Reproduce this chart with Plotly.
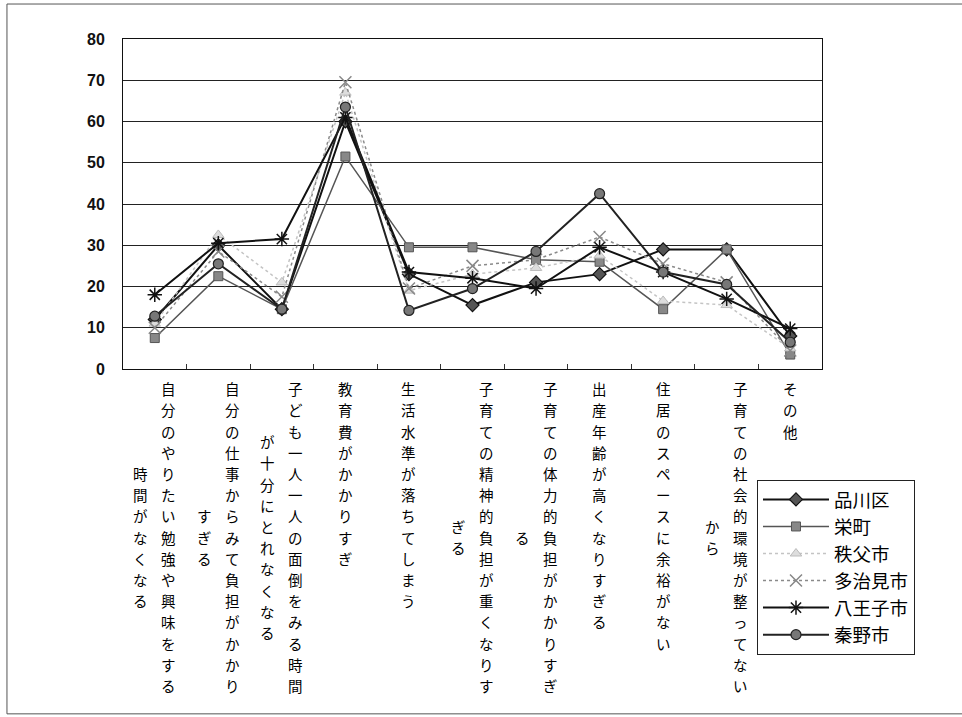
import plotly.graph_objects as go

# Reasons (categories) and their label columns, written right-to-left as in vertical text
categories = [
    "自分のやりたい勉強や興味をする時間がなくなる",
    "自分の仕事からみて負担がかかりすぎる",
    "子ども一人一人の面倒をみる時間が十分にとれなくなる",
    "教育費がかかりすぎ",
    "生活水準が落ちてしまう",
    "子育ての精神的負担が重くなりすぎる",
    "子育ての体力的負担がかかりすぎる",
    "出産年齢が高くなりすぎる",
    "住居のスペースに余裕がない",
    "子育ての社会的環境が整ってないから",
    "その他",
]
label_columns = [
    ["自分のやりたい勉強や興味をする", "時間がなくなる"],
    ["自分の仕事からみて負担がかかり", "すぎる"],
    ["子ども一人一人の面倒をみる時間", "が十分にとれなくなる"],
    ["教育費がかかりすぎ"],
    ["生活水準が落ちてしまう"],
    ["子育ての精神的負担が重くなりす", "ぎる"],
    ["子育ての体力的負担がかかりすぎ", "る"],
    ["出産年齢が高くなりすぎる"],
    ["住居のスペースに余裕がない"],
    ["子育ての社会的環境が整ってない", "から"],
    ["その他"],
]
y_ticks = [0, 10, 20, 30, 40, 50, 60, 70, 80]

# Percentages by municipality
shinagawa = [12.0, 30.0, 14.5, 60.0, 23.0, 15.5, 21.0, 23.0, 29.0, 29.0, 8.0]
sakaemachi = [7.5, 22.5, 14.5, 51.5, 29.5, 29.5, 26.5, 26.0, 14.5, 29.0, 3.5]
chichibu = [11.0, 32.5, 21.0, 67.0, 19.0, 23.0, 24.5, 27.5, 16.5, 15.5, 5.0]
tajimi = [10.0, 28.5, 17.5, 69.5, 19.5, 25.0, 26.5, 32.0, 25.5, 21.0, 4.5]
hachioji = [18.0, 30.5, 31.5, 61.0, 23.5, 22.0, 19.5, 29.5, 23.5, 17.0, 9.8]
hadano = [12.8, 25.5, 14.5, 63.5, 14.2, 19.5, 28.5, 42.5, 23.5, 20.5, 6.5]

series_names = ["品川区", "栄町", "秩父市", "多治見市", "八王子市", "秦野市"]
series_values = [shinagawa, sakaemachi, chichibu, tajimi, hachioji, hadano]
series_styles = [
    dict(line=dict(color="#111111", width=2, dash="solid"),
         marker=dict(symbol="diamond", size=10, color="#555555",
                     line=dict(color="#111111", width=1.2))),
    dict(line=dict(color="#555555", width=1.5, dash="solid"),
         marker=dict(symbol="square", size=9, color="#888888",
                     line=dict(color="#555555", width=1))),
    dict(line=dict(color="#c4c4c4", width=1.5, dash="dot"),
         marker=dict(symbol="triangle-up", size=10, color="#dddddd",
                     line=dict(color="#bbbbbb", width=1))),
    dict(line=dict(color="#8a8a8a", width=1.5, dash="dot"),
         marker=dict(symbol="x-thin", size=12, color="#888888",
                     line=dict(color="#888888", width=1.5))),
    dict(line=dict(color="#111111", width=2, dash="solid"),
         marker=dict(symbol="asterisk", size=12, color="#111111",
                     line=dict(color="#111111", width=1.5))),
    dict(line=dict(color="#222222", width=2, dash="solid"),
         marker=dict(symbol="circle", size=10, color="#777777",
                     line=dict(color="#222222", width=1.2))),
]

fig = go.Figure()
for name, vals, style in zip(series_names, series_values, series_styles):
    fig.add_trace(go.Scatter(
        x=categories, y=vals, name=name, mode="lines+markers",
        line=style["line"], marker=style["marker"],
    ))

JP_FONT = "Noto Sans CJK JP"
LABEL_SIZE = 14.5
COL_GAP = 28      # horizontal distance between label columns (px)
CHAR_PITCH = 21.2  # vertical distance between stacked characters (px)
LABEL_TOP = -0.025

# Vertical category labels: each column is a stack of characters,
# columns run right-to-left and are centred on the longest one
for cat, cols in zip(categories, label_columns):
    n = len(cols)
    longest = max(len(c) for c in cols)
    for i, col in enumerate(cols):
        x_off = (n - 1) / 2 * COL_GAP - i * COL_GAP
        y_off = (longest - len(col)) * CHAR_PITCH / 2
        for j, ch in enumerate(col):
            fig.add_annotation(
                x=cat, xref="x", y=LABEL_TOP, yref="paper",
                text=ch, showarrow=False, borderpad=0,
                xanchor="center", yanchor="top",
                xshift=x_off, yshift=-(y_off + j * CHAR_PITCH),
                font=dict(family=JP_FONT, size=LABEL_SIZE, color="#000000"),
            )

# Outer chart frame
fig.add_shape(type="rect", xref="paper", yref="paper",
              x0=-0.166, x1=1.25, y0=-1.045, y1=1.106,
              line=dict(color="#555555", width=1), layer="below")

fig.update_layout(
    width=962, height=717,
    margin=dict(l=123, r=140, t=39, b=348),
    paper_bgcolor="white", plot_bgcolor="white",
    showlegend=True,
    legend=dict(
        x=0.907, y=-0.336, xanchor="left", yanchor="top",
        bgcolor="white", bordercolor="#222222", borderwidth=1,
        font=dict(family=JP_FONT, size=18.5, color="#000000"),
        itemwidth=66, tracegroupgap=0,
    ),
    xaxis=dict(
        type="category", range=[-0.5, len(categories) - 0.5],
        showticklabels=False, showgrid=False,
        showline=True, linecolor="#111111", linewidth=1, mirror=True,
        ticks="inside", ticklen=5, tickcolor="#333333", tickson="boundaries",
    ),
    yaxis=dict(
        range=[0, 80], tickvals=y_ticks, ticktext=[str(v) for v in y_ticks],
        showgrid=True, gridcolor="#222222", gridwidth=1,
        showline=True, linecolor="#111111", linewidth=1, mirror=True,
        zeroline=False, ticks="", ticklabelstandoff=14,
        tickfont=dict(family="Liberation Sans", size=16, color="#111111", weight="bold"),
    ),
)

fig.write_html("out.html")
